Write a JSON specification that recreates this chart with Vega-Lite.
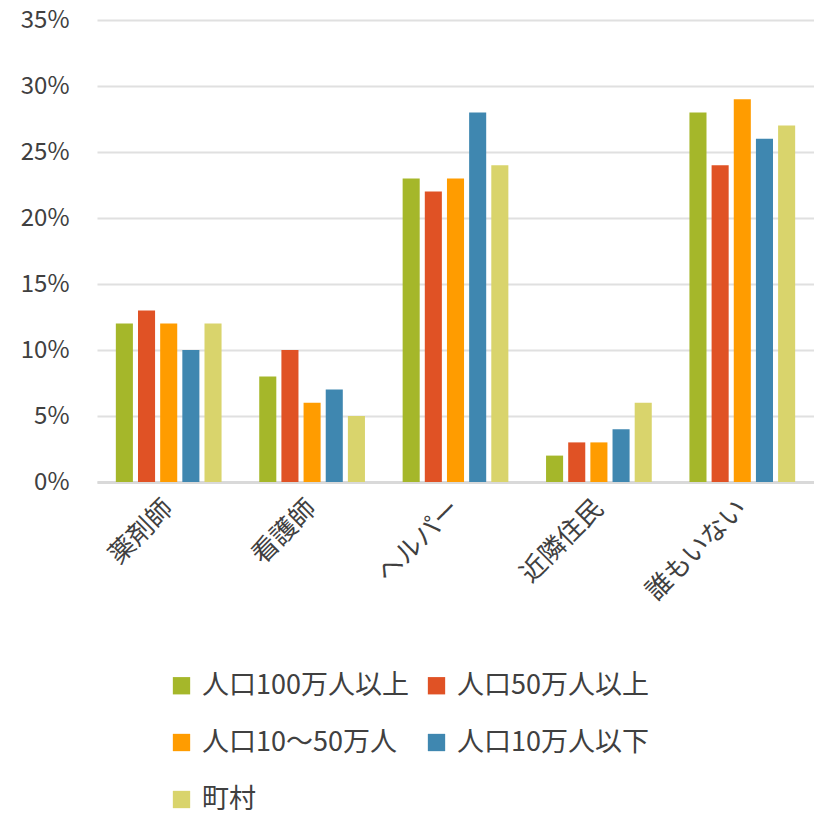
{
  "$schema": "https://vega.github.io/schema/vega-lite/v6.json",
  "width": 717,
  "height": 462,
  "autosize": {"type": "none"},
  "padding": {"left": 97, "top": 20, "right": 0, "bottom": 334},
  "background": "white",
  "config": {
    "font": "Noto Sans CJK JP",
    "view": {"stroke": null}
  },
  "data": {
    "values": [
      {"cat": "薬剤師", "group": "人口100万人以上", "v": 0.12},
      {"cat": "薬剤師", "group": "人口50万人以上", "v": 0.13},
      {"cat": "薬剤師", "group": "人口10～50万人", "v": 0.12},
      {"cat": "薬剤師", "group": "人口10万人以下", "v": 0.10},
      {"cat": "薬剤師", "group": "町村", "v": 0.12},
      {"cat": "看護師", "group": "人口100万人以上", "v": 0.08},
      {"cat": "看護師", "group": "人口50万人以上", "v": 0.10},
      {"cat": "看護師", "group": "人口10～50万人", "v": 0.06},
      {"cat": "看護師", "group": "人口10万人以下", "v": 0.07},
      {"cat": "看護師", "group": "町村", "v": 0.05},
      {"cat": "ヘルパー", "group": "人口100万人以上", "v": 0.23},
      {"cat": "ヘルパー", "group": "人口50万人以上", "v": 0.22},
      {"cat": "ヘルパー", "group": "人口10～50万人", "v": 0.23},
      {"cat": "ヘルパー", "group": "人口10万人以下", "v": 0.28},
      {"cat": "ヘルパー", "group": "町村", "v": 0.24},
      {"cat": "近隣住民", "group": "人口100万人以上", "v": 0.02},
      {"cat": "近隣住民", "group": "人口50万人以上", "v": 0.03},
      {"cat": "近隣住民", "group": "人口10～50万人", "v": 0.03},
      {"cat": "近隣住民", "group": "人口10万人以下", "v": 0.04},
      {"cat": "近隣住民", "group": "町村", "v": 0.06},
      {"cat": "誰もいない", "group": "人口100万人以上", "v": 0.28},
      {"cat": "誰もいない", "group": "人口50万人以上", "v": 0.24},
      {"cat": "誰もいない", "group": "人口10～50万人", "v": 0.29},
      {"cat": "誰もいない", "group": "人口10万人以下", "v": 0.26},
      {"cat": "誰もいない", "group": "町村", "v": 0.27}
    ]
  },
  "mark": {"type": "bar"},
  "encoding": {
    "x": {
      "field": "cat",
      "type": "nominal",
      "sort": ["薬剤師", "看護師", "ヘルパー", "近隣住民", "誰もいない"],
      "scale": {"paddingInner": 0, "paddingOuter": 0},
      "axis": {
        "title": null,
        "labelAngle": -45,
        "labelAlign": "right",
        "labelBaseline": "middle",
        "labelFontSize": 26,
        "labelColor": "#404040",
        "labelPadding": 22,
        "ticks": false,
        "domainColor": "#d9d9d9",
        "domainWidth": 3
      }
    },
    "xOffset": {
      "field": "group",
      "type": "nominal",
      "sort": ["人口100万人以上", "人口50万人以上", "人口10～50万人", "人口10万人以下", "町村"],
      "scale": {"paddingInner": 0.23, "paddingOuter": 0.85}
    },
    "y": {
      "field": "v",
      "type": "quantitative",
      "scale": {"domain": [0, 0.35]},
      "axis": {
        "title": null,
        "format": ".0%",
        "values": [0, 0.05, 0.1, 0.15, 0.2, 0.25, 0.3, 0.35],
        "labelFontSize": 24,
        "labelColor": "#404040",
        "labelPadding": 28,
        "ticks": false,
        "domain": false,
        "gridColor": "#e0e0e0",
        "gridWidth": 2
      }
    },
    "color": {
      "field": "group",
      "type": "nominal",
      "sort": ["人口100万人以上", "人口50万人以上", "人口10～50万人", "人口10万人以下", "町村"],
      "scale": {
        "domain": ["人口100万人以上", "人口50万人以上", "人口10～50万人", "人口10万人以下", "町村"],
        "range": ["#a5b72a", "#e05225", "#ff9c00", "#3f87b0", "#d9d46c"]
      },
      "legend": {
        "title": null,
        "orient": "none",
        "legendX": 71,
        "legendY": 652,
        "columns": 2,
        "direction": "horizontal",
        "symbolType": "square",
        "symbolSize": 300,
        "symbolStrokeWidth": 0,
        "labelFontSize": 27,
        "labelColor": "#404040",
        "labelOffset": 7,
        "rowPadding": 29,
        "columnPadding": 14,
        "labelLimit": 300
      }
    }
  }
}
